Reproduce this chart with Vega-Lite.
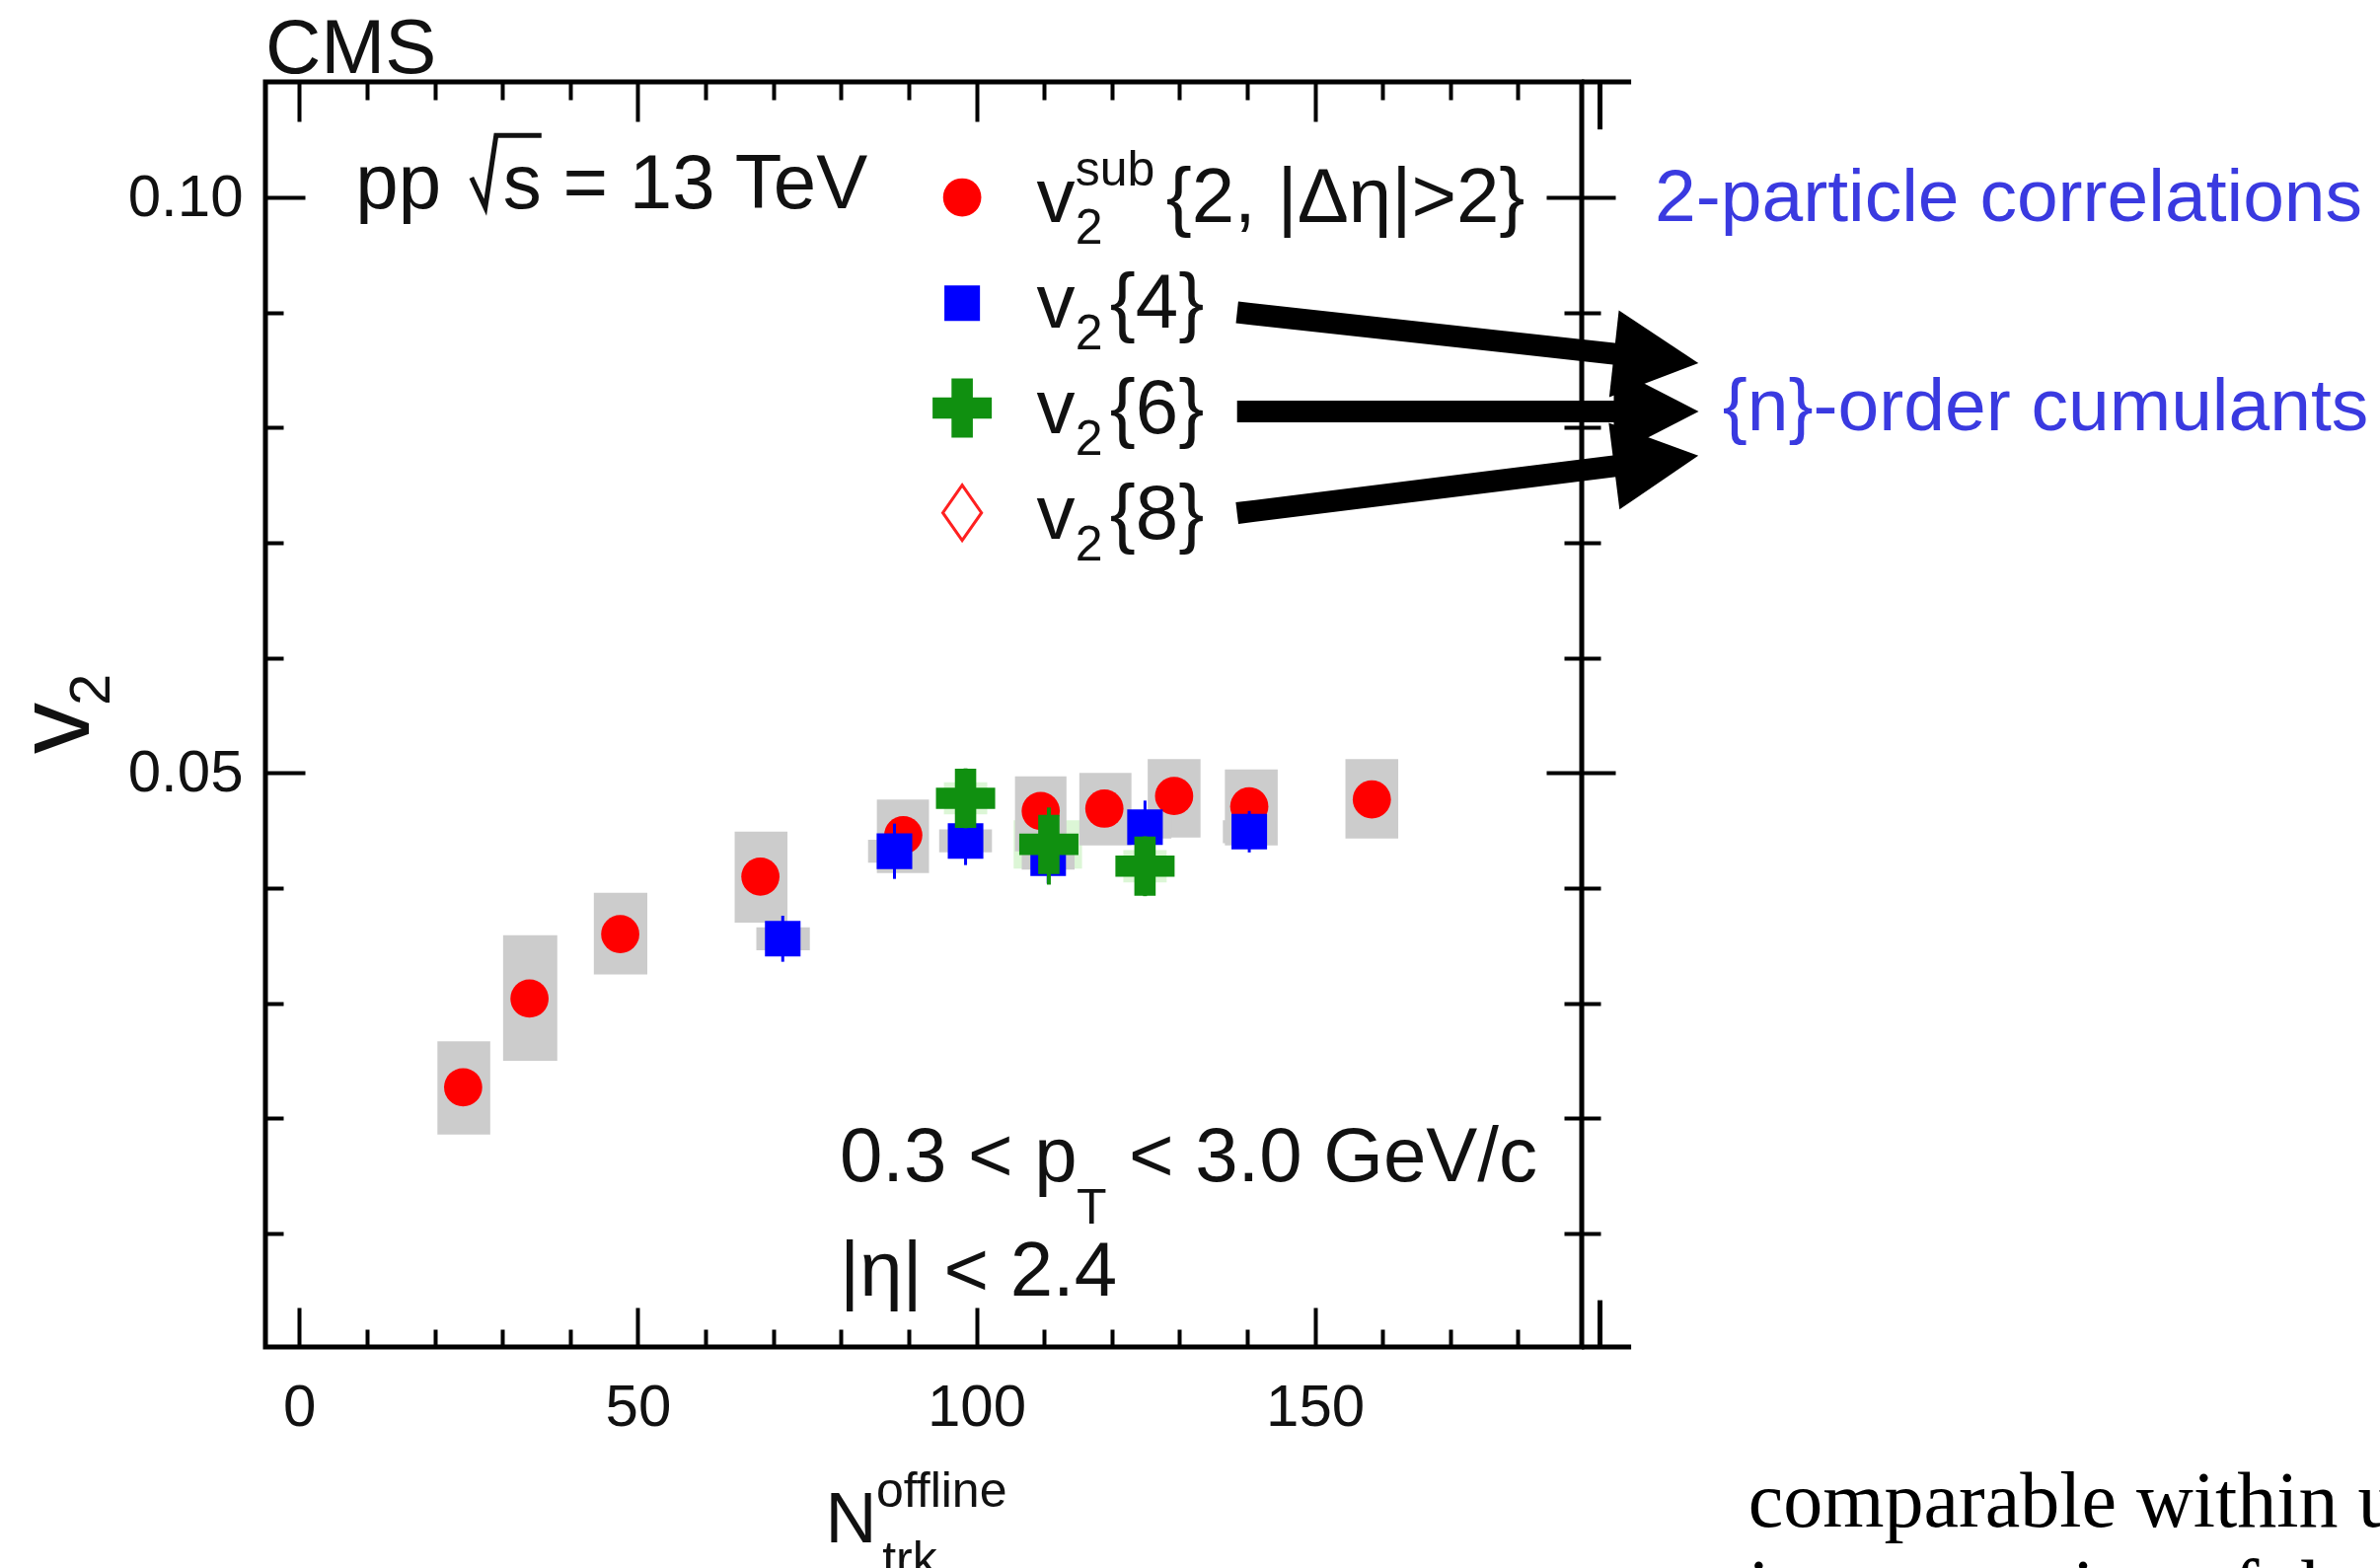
{
  "$schema": "https://vega.github.io/schema/vega-lite/v6.json",
  "width": 1334,
  "height": 1282,
  "autosize": {"type": "none"},
  "padding": {"left": 269, "top": 83, "right": 809, "bottom": 224},
  "background": "white",
  "config": {
    "view": {"stroke": "#000", "strokeWidth": 5},
    "axis": {
      "domain": false,
      "grid": false,
      "labelFont": "Liberation Sans",
      "labelFontSize": 60,
      "labelColor": "#111",
      "tickColor": "#000",
      "tickWidth": 4,
      "labelFlush": false,
      "labelOverlap": false
    },
    "text": {"font": "Liberation Sans", "color": "#111"}
  },
  "datasets": {
    "v2sub": [
      {"n": 24.2, "v": 0.0227, "nlo": 20.4, "nhi": 28.2, "vlo": 0.0186, "vhi": 0.0267},
      {"n": 34.0, "v": 0.0304, "nlo": 30.1, "nhi": 38.1, "vlo": 0.0250, "vhi": 0.0359},
      {"n": 47.4, "v": 0.0360, "nlo": 43.5, "nhi": 51.4, "vlo": 0.0325, "vhi": 0.0396},
      {"n": 68.1, "v": 0.0410, "nlo": 64.3, "nhi": 72.1, "vlo": 0.0370, "vhi": 0.0449},
      {"n": 89.2, "v": 0.0446, "nlo": 85.3, "nhi": 93.0, "vlo": 0.0413, "vhi": 0.0477},
      {"n": 109.5, "v": 0.0467, "nlo": 105.7, "nhi": 113.3, "vlo": 0.0432, "vhi": 0.0497},
      {"n": 118.9, "v": 0.0469, "nlo": 115.2, "nhi": 122.9, "vlo": 0.0437, "vhi": 0.0500},
      {"n": 129.2, "v": 0.0480, "nlo": 125.3, "nhi": 133.1, "vlo": 0.0444, "vhi": 0.0512},
      {"n": 140.3, "v": 0.0471, "nlo": 136.7, "nhi": 144.5, "vlo": 0.0437, "vhi": 0.0503},
      {"n": 158.4, "v": 0.0477, "nlo": 154.5, "nhi": 162.3, "vlo": 0.0443, "vhi": 0.0512}
    ],
    "v2c4": [
      {"n": 71.4, "v": 0.0356, "elo": 0.0336, "ehi": 0.0376, "nlo": 67.5, "nhi": 75.4, "slo": 0.0346, "shi": 0.0366},
      {"n": 87.9, "v": 0.0432, "elo": 0.0408, "ehi": 0.0456, "nlo": 84.0, "nhi": 91.8, "slo": 0.0422, "shi": 0.0442},
      {"n": 98.4, "v": 0.0441, "elo": 0.0420, "ehi": 0.0462, "nlo": 94.5, "nhi": 102.3, "slo": 0.0431, "shi": 0.0451},
      {"n": 110.6, "v": 0.0426, "elo": 0.0404, "ehi": 0.0448, "nlo": 106.7, "nhi": 114.5, "slo": 0.0416, "shi": 0.0436},
      {"n": 124.9, "v": 0.0453, "elo": 0.0430, "ehi": 0.0476, "nlo": 121.0, "nhi": 128.8, "slo": 0.0443, "shi": 0.0463},
      {"n": 140.3, "v": 0.0449, "elo": 0.0431, "ehi": 0.0467, "nlo": 136.4, "nhi": 144.2, "slo": 0.0439, "shi": 0.0459}
    ],
    "v2c6": [
      {"n": 98.4, "v": 0.0478, "elo": 0.0452, "ehi": 0.0504, "nlo": 95.2, "nhi": 101.6, "slo": 0.0464, "shi": 0.0492},
      {"n": 110.7, "v": 0.0438, "elo": 0.0403, "ehi": 0.0470, "nlo": 105.5, "nhi": 115.6, "slo": 0.0417, "shi": 0.0459},
      {"n": 124.9, "v": 0.0419, "elo": 0.0393, "ehi": 0.0445, "nlo": 121.7, "nhi": 128.1, "slo": 0.0405, "shi": 0.0433}
    ],
    "text78": [
      {"label": "CMS", "n": -5.0, "v": 0.1108},
      {"label": "pp", "n": 8.3, "v": 0.09908},
      {"label": "s = 13 TeV", "n": 30.1, "v": 0.09908},
      {"label": "v", "n": 108.9, "v": 0.09786},
      {"label": "{2, |Δη|>2}", "n": 128.0, "v": 0.09786},
      {"label": "v", "n": 108.9, "v": 0.08869},
      {"label": "{4}", "n": 119.7, "v": 0.08869},
      {"label": "v", "n": 108.9, "v": 0.07951},
      {"label": "{6}", "n": 119.7, "v": 0.07951},
      {"label": "v", "n": 108.9, "v": 0.07034},
      {"label": "{8}", "n": 119.7, "v": 0.07034},
      {"label": "0.3 < p", "n": 79.8, "v": 0.01456},
      {"label": "< 3.0 GeV/c", "n": 122.5, "v": 0.01456},
      {"label": "|η| < 2.4", "n": 79.8, "v": 0.00457}
    ],
    "text50": [
      {"label": "sub", "n": 114.6, "v": 0.10103},
      {"label": "2", "n": 114.6, "v": 0.09597},
      {"label": "2", "n": 114.6, "v": 0.0868},
      {"label": "2", "n": 114.6, "v": 0.07763},
      {"label": "2", "n": 114.6, "v": 0.06846},
      {"label": "T", "n": 114.8, "v": 0.01085},
      {"label": "offline", "n": 85.2, "v": -0.01375},
      {"label": "trk", "n": 86.1, "v": -0.01975}
    ],
    "radical": [
      {"k": 1, "n": 25.43, "v": 0.10171},
      {"k": 2, "n": 27.47, "v": 0.09913},
      {"k": 3, "n": 29.07, "v": 0.10539},
      {"k": 4, "n": 35.77, "v": 0.10539}
    ],
    "arrows": [
      {"id": 1, "n1": 138.5, "v1": 0.09001, "n2": 200.4, "v2": 0.08601},
      {"id": 2, "n1": 138.5, "v1": 0.0814, "n2": 200.4, "v2": 0.0814},
      {"id": 3, "n1": 138.5, "v1": 0.07257, "n2": 200.4, "v2": 0.07711}
    ],
    "frameExtra": [
      {"n1": 189.4, "v1": 0.11003, "n2": 196.7, "v2": 0.11003},
      {"n1": 189.4, "v1": 0.00014, "n2": 196.7, "v2": 0.00014},
      {"n1": 192.1, "v1": 0.11003, "n2": 192.1, "v2": 0.1059},
      {"n1": 192.1, "v1": 0.00014, "n2": 192.1, "v2": 0.0042}
    ]
  },
  "resolve": {"axis": {"x": "independent", "y": "independent"}},
  "layer": [
    {
      "data": {"name": "v2c6"},
      "mark": {"type": "rect", "fill": "#c4f0ba", "opacity": 0.6},
      "encoding": {
        "x": {"field": "nlo", "type": "quantitative",
              "scale": {"domain": [-5, 189.4], "nice": false, "zero": false},
              "axis": {"orient": "bottom", "values": [0, 50, 100, 150], "ticks": false, "tickSize": 0, "labelPadding": 32, "title": null}},
        "x2": {"field": "nhi"},
        "y": {"field": "slo", "type": "quantitative",
              "scale": {"domain": [0.00014, 0.11003], "nice": false, "zero": false},
              "axis": {"orient": "left", "values": [0.05, 0.1], "format": ".2f", "ticks": false, "tickSize": 0, "labelPadding": 23, "title": null}},
        "y2": {"field": "shi"}
      }
    },
    {
      "data": {"name": "v2sub"},
      "mark": {"type": "rect", "fill": "#cccccc"},
      "encoding": {
        "x": {"field": "nlo", "type": "quantitative",
              "axis": {"orient": "bottom", "values": [0, 50, 100, 150], "labels": false, "tickSize": -40, "title": null}},
        "x2": {"field": "nhi"},
        "y": {"field": "vlo", "type": "quantitative",
              "axis": {"orient": "left", "values": [0.05, 0.1], "labels": false, "tickSize": -40, "title": null}},
        "y2": {"field": "vhi"}
      }
    },
    {
      "data": {"name": "v2c4"},
      "mark": {"type": "rect", "fill": "#cccccc"},
      "encoding": {
        "x": {"field": "nlo", "type": "quantitative",
              "axis": {"orient": "bottom", "values": [10, 20, 30, 40, 60, 70, 80, 90, 110, 120, 130, 140, 160, 170, 180], "labels": false, "tickSize": -18, "title": null}},
        "x2": {"field": "nhi"},
        "y": {"field": "slo", "type": "quantitative",
              "axis": {"orient": "left", "values": [0.01, 0.02, 0.03, 0.04, 0.06, 0.07, 0.08, 0.09], "labels": false, "tickSize": -18, "title": null}},
        "y2": {"field": "shi"}
      }
    },
    {
      "data": {"name": "v2sub"},
      "mark": {"type": "point", "shape": "circle", "filled": true, "opacity": 1, "color": "#ff0000", "size": 1500},
      "encoding": {
        "x": {"field": "n", "type": "quantitative",
              "axis": {"orient": "top", "values": [0, 50, 100, 150], "labels": false, "tickSize": -40, "title": null}},
        "y": {"field": "v", "type": "quantitative",
              "axis": {"orient": "right", "values": [0.05, 0.1], "labels": false, "tickSize": -36, "title": null}}
      }
    },
    {
      "data": {"name": "v2c4"},
      "mark": {"type": "rule", "color": "#0000ff", "strokeWidth": 3},
      "encoding": {
        "x": {"field": "n", "type": "quantitative",
              "axis": {"orient": "top", "values": [10, 20, 30, 40, 60, 70, 80, 90, 110, 120, 130, 140, 160, 170, 180], "labels": false, "tickSize": -18, "title": null}},
        "y": {"field": "elo", "type": "quantitative",
              "axis": {"orient": "right", "values": [0.01, 0.02, 0.03, 0.04, 0.06, 0.07, 0.08, 0.09], "labels": false, "tickSize": -18, "title": null}},
        "y2": {"field": "ehi"}
      }
    },
    {
      "data": {"name": "v2c4"},
      "mark": {"type": "point", "shape": "square", "filled": true, "opacity": 1, "color": "#0000ff", "size": 1300},
      "encoding": {
        "x": {"field": "n", "type": "quantitative", "axis": null},
        "y": {"field": "v", "type": "quantitative",
              "axis": {"orient": "right", "values": [0.05, 0.1], "labels": false, "tickSize": 34, "title": null}}
      }
    },
    {
      "data": {"name": "v2c6"},
      "mark": {"type": "rule", "color": "#109010", "strokeWidth": 4},
      "encoding": {
        "x": {"field": "n", "type": "quantitative", "axis": null},
        "y": {"field": "elo", "type": "quantitative",
              "axis": {"orient": "right", "values": [0.01, 0.02, 0.03, 0.04, 0.06, 0.07, 0.08, 0.09], "labels": false, "tickSize": 19, "title": null}},
        "y2": {"field": "ehi"}
      }
    },
    {
      "data": {"name": "v2c6"},
      "mark": {"type": "point", "shape": "M -0.36 -1 H 0.36 V -0.36 H 1 V 0.36 H 0.36 V 1 H -0.36 V 0.36 H -1 V -0.36 H -0.36 Z", "filled": true, "opacity": 1, "color": "#109010", "size": 3600},
      "encoding": {
        "x": {"field": "n", "type": "quantitative", "axis": null},
        "y": {"field": "v", "type": "quantitative", "axis": null}
      }
    },
    {
      "data": {"values": [{"n": 97.9, "v": 0.1}]},
      "mark": {"type": "point", "shape": "circle", "filled": true, "opacity": 1, "color": "#ff0000", "size": 1500},
      "encoding": {
        "x": {"field": "n", "type": "quantitative", "axis": null},
        "y": {"field": "v", "type": "quantitative", "axis": null}
      }
    },
    {
      "data": {"values": [{"n": 97.9, "v": 0.0908}]},
      "mark": {"type": "point", "shape": "square", "filled": true, "opacity": 1, "color": "#0000ff", "size": 1300},
      "encoding": {
        "x": {"field": "n", "type": "quantitative", "axis": null},
        "y": {"field": "v", "type": "quantitative", "axis": null}
      }
    },
    {
      "data": {"values": [{"n": 97.9, "v": 0.0817}]},
      "mark": {"type": "point", "shape": "M -0.36 -1 H 0.36 V -0.36 H 1 V 0.36 H 0.36 V 1 H -0.36 V 0.36 H -1 V -0.36 H -0.36 Z", "filled": true, "opacity": 1, "color": "#109010", "size": 3600},
      "encoding": {
        "x": {"field": "n", "type": "quantitative", "axis": null},
        "y": {"field": "v", "type": "quantitative", "axis": null}
      }
    },
    {
      "data": {"values": [{"n": 97.9, "v": 0.0726}]},
      "mark": {"type": "point", "shape": "M 0 -1 L 0.7 0 L 0 1 L -0.7 0 Z", "filled": false, "opacity": 1, "color": "#ff2020", "strokeWidth": 3, "size": 3136},
      "encoding": {
        "x": {"field": "n", "type": "quantitative", "axis": null},
        "y": {"field": "v", "type": "quantitative", "axis": null}
      }
    },
    {
      "data": {"name": "text78"},
      "mark": {"type": "text", "fontSize": 78, "align": "left", "baseline": "alphabetic"},
      "encoding": {
        "x": {"field": "n", "type": "quantitative", "axis": null},
        "y": {"field": "v", "type": "quantitative", "axis": null},
        "text": {"field": "label"}
      }
    },
    {
      "data": {"name": "radical"},
      "mark": {"type": "line", "color": "#111", "strokeWidth": 5, "strokeJoin": "miter"},
      "encoding": {
        "x": {"field": "n", "type": "quantitative", "axis": null},
        "y": {"field": "v", "type": "quantitative", "axis": null},
        "order": {"field": "k"}
      }
    },
    {
      "data": {"name": "text50"},
      "mark": {"type": "text", "fontSize": 50, "align": "left", "baseline": "alphabetic"},
      "encoding": {
        "x": {"field": "n", "type": "quantitative", "axis": null},
        "y": {"field": "v", "type": "quantitative", "axis": null},
        "text": {"field": "label"}
      }
    },
    {
      "data": {"values": [{"label": "N", "n": 77.7, "v": -0.01684}]},
      "mark": {"type": "text", "fontSize": 72, "align": "left", "baseline": "alphabetic"},
      "encoding": {
        "x": {"field": "n", "type": "quantitative", "axis": null},
        "y": {"field": "v", "type": "quantitative", "axis": null},
        "text": {"field": "label"}
      }
    },
    {
      "data": {"values": [{"label": "v", "n": -31.1, "v": 0.05165}]},
      "mark": {"type": "text", "fontSize": 104, "angle": -90, "align": "left", "baseline": "alphabetic"},
      "encoding": {
        "x": {"field": "n", "type": "quantitative", "axis": null},
        "y": {"field": "v", "type": "quantitative", "axis": null},
        "text": {"field": "label"}
      }
    },
    {
      "data": {"values": [{"label": "2", "n": -28.0, "v": 0.05585}]},
      "mark": {"type": "text", "fontSize": 58, "angle": -90, "align": "left", "baseline": "alphabetic"},
      "encoding": {
        "x": {"field": "n", "type": "quantitative", "axis": null},
        "y": {"field": "v", "type": "quantitative", "axis": null},
        "text": {"field": "label"}
      }
    },
    {
      "data": {"values": [
        {"label": "2-particle correlations", "n": 200.2, "v": 0.09794},
        {"label": "{n}-order cumulants", "n": 210.2, "v": 0.07977}
      ]},
      "mark": {"type": "text", "fontSize": 75, "color": "#3a3ae0", "align": "left", "baseline": "alphabetic"},
      "encoding": {
        "x": {"field": "n", "type": "quantitative", "axis": null},
        "y": {"field": "v", "type": "quantitative", "axis": null},
        "text": {"field": "label"}
      }
    },
    {
      "data": {"values": [
        {"label": "comparable within uncertainties", "n": 214.0, "v": -0.01544},
        {"label": "interpretation of the", "n": 214.0, "v": -0.0231}
      ]},
      "mark": {"type": "text", "font": "Liberation Serif", "fontSize": 80, "color": "#000", "align": "left", "baseline": "alphabetic"},
      "encoding": {
        "x": {"field": "n", "type": "quantitative", "axis": null},
        "y": {"field": "v", "type": "quantitative", "axis": null},
        "text": {"field": "label"}
      }
    },
    {
      "data": {"name": "arrows"},
      "mark": {"type": "rule", "color": "#000", "strokeWidth": 22, "strokeCap": "butt"},
      "encoding": {
        "x": {"field": "n1", "type": "quantitative", "axis": null},
        "y": {"field": "v1", "type": "quantitative", "axis": null},
        "x2": {"field": "n2"},
        "y2": {"field": "v2"}
      }
    },
    {
      "data": {"name": "arrows"},
      "transform": [{"filter": "datum.id === 1"}],
      "mark": {"type": "point", "shape": "M 1 0 L -1 -1.03 L -1 1.03 Z", "filled": true, "opacity": 1, "color": "#000", "size": 7400, "angle": 6.3},
      "encoding": {
        "x": {"field": "n2", "type": "quantitative", "axis": null},
        "y": {"field": "v2", "type": "quantitative", "axis": null}
      }
    },
    {
      "data": {"name": "arrows"},
      "transform": [{"filter": "datum.id === 2"}],
      "mark": {"type": "point", "shape": "M 1 0 L -1 -1.03 L -1 1.03 Z", "filled": true, "opacity": 1, "color": "#000", "size": 7400, "angle": 0},
      "encoding": {
        "x": {"field": "n2", "type": "quantitative", "axis": null},
        "y": {"field": "v2", "type": "quantitative", "axis": null}
      }
    },
    {
      "data": {"name": "arrows"},
      "transform": [{"filter": "datum.id === 3"}],
      "mark": {"type": "point", "shape": "M 1 0 L -1 -1.03 L -1 1.03 Z", "filled": true, "opacity": 1, "color": "#000", "size": 7400, "angle": -7.1},
      "encoding": {
        "x": {"field": "n2", "type": "quantitative", "axis": null},
        "y": {"field": "v2", "type": "quantitative", "axis": null}
      }
    },
    {
      "data": {"name": "frameExtra"},
      "mark": {"type": "rule", "color": "#000", "strokeWidth": 5},
      "encoding": {
        "x": {"field": "n1", "type": "quantitative", "axis": null},
        "y": {"field": "v1", "type": "quantitative", "axis": null},
        "x2": {"field": "n2"},
        "y2": {"field": "v2"}
      }
    }
  ]
}
